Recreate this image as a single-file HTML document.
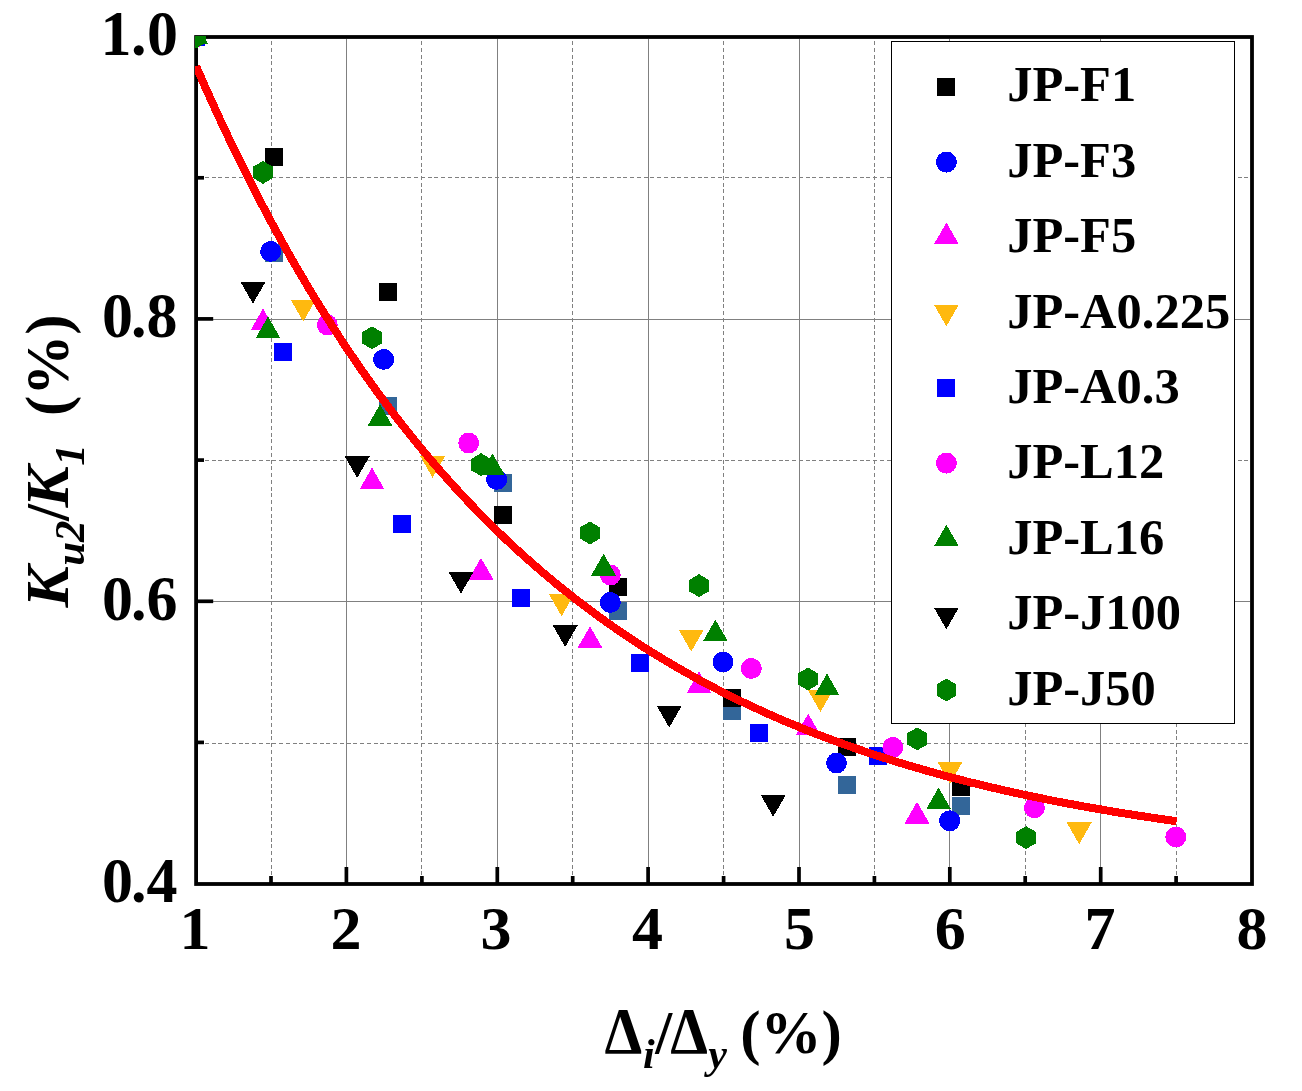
<!DOCTYPE html><html><head><meta charset="utf-8"><style>html,body{margin:0;padding:0;background:#fff}svg{display:block}</style></head><body><svg width="1302" height="1091" viewBox="0 0 1302 1091"><rect width="1302" height="1091" fill="#fff"/><defs><clipPath id="cp"><rect x="195" y="36" width="1058.5" height="849.5"/></clipPath><filter id="gs" x="-10%" y="-50%" width="120%" height="200%" color-interpolation-filters="sRGB"><feColorMatrix type="saturate" values="0"/></filter></defs><g stroke="#808080" stroke-width="1" shape-rendering="crispEdges"><line x1="346.5" y1="39" x2="346.5" y2="882"/><line x1="497.5" y1="39" x2="497.5" y2="882"/><line x1="648.5" y1="39" x2="648.5" y2="882"/><line x1="799.5" y1="39" x2="799.5" y2="882"/><line x1="949.5" y1="39" x2="949.5" y2="882"/><line x1="1100.5" y1="39" x2="1100.5" y2="882"/><line x1="198" y1="319.5" x2="1250" y2="319.5"/><line x1="198" y1="601.5" x2="1250" y2="601.5"/></g><g stroke="#808080" stroke-width="1" stroke-dasharray="4 2.75" shape-rendering="crispEdges"><line x1="271.5" y1="41" x2="271.5" y2="882"/><line x1="421.5" y1="41" x2="421.5" y2="882"/><line x1="572.5" y1="41" x2="572.5" y2="882"/><line x1="723.5" y1="41" x2="723.5" y2="882"/><line x1="874.5" y1="41" x2="874.5" y2="882"/><line x1="1025.5" y1="41" x2="1025.5" y2="882"/><line x1="1176.5" y1="41" x2="1176.5" y2="882"/><line x1="198" y1="177.5" x2="1250" y2="177.5"/><line x1="198" y1="460.5" x2="1250" y2="460.5"/><line x1="198" y1="743.5" x2="1250" y2="743.5"/></g><rect x="196.1" y="37.0" width="1055.9" height="847.0" fill="none" stroke="#000" stroke-width="3.8"/><g stroke="#000" stroke-width="3.7"><line x1="346.4" y1="867" x2="346.4" y2="884"/><line x1="497.3" y1="867" x2="497.3" y2="884"/><line x1="648.1" y1="867" x2="648.1" y2="884"/><line x1="799.0" y1="867" x2="799.0" y2="884"/><line x1="949.8" y1="867" x2="949.8" y2="884"/><line x1="1100.7" y1="867" x2="1100.7" y2="884"/><line x1="271.0" y1="876" x2="271.0" y2="884"/><line x1="421.9" y1="876" x2="421.9" y2="884"/><line x1="572.7" y1="876" x2="572.7" y2="884"/><line x1="723.6" y1="876" x2="723.6" y2="884"/><line x1="874.4" y1="876" x2="874.4" y2="884"/><line x1="1025.2" y1="876" x2="1025.2" y2="884"/><line x1="1176.1" y1="876" x2="1176.1" y2="884"/><line x1="196" y1="318.9" x2="213.2" y2="318.9"/><line x1="196" y1="601.3" x2="213.2" y2="601.3"/><line x1="196" y1="177.8" x2="204" y2="177.8"/><line x1="196" y1="460.1" x2="204" y2="460.1"/><line x1="196" y1="742.4" x2="204" y2="742.4"/></g><g clip-path="url(#cp)" shape-rendering="crispEdges"><rect x="187.0" y="28.0" width="18" height="18" fill="#336699"/><rect x="265.0" y="244.0" width="18" height="18" fill="#336699"/><rect x="379.0" y="397.4" width="18" height="18" fill="#336699"/><rect x="494.0" y="474.2" width="18" height="18" fill="#336699"/><rect x="608.8" y="601.8" width="18" height="18" fill="#336699"/><rect x="723.2" y="702.0" width="18" height="18" fill="#336699"/><rect x="837.6" y="776.0" width="18" height="18" fill="#336699"/><rect x="952.0" y="797.0" width="18" height="18" fill="#336699"/><rect x="187.0" y="28.0" width="18" height="18" fill="#000"/><rect x="265.0" y="148.0" width="18" height="18" fill="#000"/><rect x="379.0" y="283.0" width="18" height="18" fill="#000"/><rect x="494.0" y="506.0" width="18" height="18" fill="#000"/><rect x="608.8" y="578.2" width="18" height="18" fill="#000"/><rect x="723.2" y="689.4" width="18" height="18" fill="#000"/><rect x="837.7" y="738.1" width="18" height="18" fill="#000"/><rect x="952.0" y="778.0" width="18" height="18" fill="#000"/><circle cx="195.7" cy="37.0" r="10.45" fill="#0000ff"/><circle cx="270.7" cy="251.4" r="10.45" fill="#0000ff"/><circle cx="383.7" cy="359.4" r="10.45" fill="#0000ff"/><circle cx="496.7" cy="479.4" r="10.45" fill="#0000ff"/><circle cx="610.3" cy="602.4" r="10.45" fill="#0000ff"/><circle cx="723.1" cy="662.0" r="10.45" fill="#0000ff"/><circle cx="836.5" cy="763.0" r="10.45" fill="#0000ff"/><circle cx="949.7" cy="820.8" r="10.45" fill="#0000ff"/><polygon points="196.0,22.6 208.5,44.4 183.5,44.4" fill="#ff00ff"/><polygon points="263.0,308.6 275.5,330.4 250.5,330.4" fill="#ff00ff"/><polygon points="372.0,467.6 384.5,489.4 359.5,489.4" fill="#ff00ff"/><polygon points="481.0,557.9 493.5,579.6 468.5,579.6" fill="#ff00ff"/><polygon points="590.0,626.2 602.5,648.0 577.5,648.0" fill="#ff00ff"/><polygon points="699.0,671.6 711.5,693.4 686.5,693.4" fill="#ff00ff"/><polygon points="808.2,713.6 820.7,735.4 795.7,735.4" fill="#ff00ff"/><polygon points="917.0,801.8 929.5,823.6 904.5,823.6" fill="#ff00ff"/><polygon points="183.5,29.6 208.5,29.6 196.0,51.4" fill="#ffb90f"/><polygon points="290.7,299.8 315.7,299.8 303.2,321.6" fill="#ffb90f"/><polygon points="420.1,456.0 445.1,456.0 432.6,477.8" fill="#ffb90f"/><polygon points="549.1,594.4 574.1,594.4 561.6,616.2" fill="#ffb90f"/><polygon points="678.7,629.8 703.7,629.8 691.2,651.6" fill="#ffb90f"/><polygon points="807.9,690.2 832.9,690.2 820.4,712.0" fill="#ffb90f"/><polygon points="937.5,761.8 962.5,761.8 950.0,783.6" fill="#ffb90f"/><polygon points="1066.7,822.4 1091.7,822.4 1079.2,844.2" fill="#ffb90f"/><rect x="187.0" y="28.0" width="18" height="18" fill="#0000ff"/><rect x="274.0" y="343.0" width="18" height="18" fill="#0000ff"/><rect x="393.0" y="515.0" width="18" height="18" fill="#0000ff"/><rect x="512.0" y="589.0" width="18" height="18" fill="#0000ff"/><rect x="631.4" y="654.0" width="18" height="18" fill="#0000ff"/><rect x="750.0" y="724.0" width="18" height="18" fill="#0000ff"/><rect x="869.0" y="747.0" width="18" height="18" fill="#0000ff"/><circle cx="195.7" cy="37.0" r="10.45" fill="#ff00ff"/><circle cx="327.3" cy="325.0" r="10.45" fill="#ff00ff"/><circle cx="468.7" cy="443.0" r="10.45" fill="#ff00ff"/><circle cx="610.3" cy="575.0" r="10.45" fill="#ff00ff"/><circle cx="751.3" cy="668.4" r="10.45" fill="#ff00ff"/><circle cx="892.8" cy="747.4" r="10.45" fill="#ff00ff"/><circle cx="1034.4" cy="807.8" r="10.45" fill="#ff00ff"/><circle cx="1175.8" cy="837.0" r="10.45" fill="#ff00ff"/><polygon points="196.0,22.6 208.5,44.4 183.5,44.4" fill="#008000"/><polygon points="268.0,316.6 280.5,338.4 255.5,338.4" fill="#008000"/><polygon points="380.0,404.4 392.5,426.2 367.5,426.2" fill="#008000"/><polygon points="492.4,453.4 504.9,475.2 479.9,475.2" fill="#008000"/><polygon points="603.6,553.8 616.1,575.6 591.1,575.6" fill="#008000"/><polygon points="715.4,619.6 727.9,641.4 702.9,641.4" fill="#008000"/><polygon points="827.0,673.6 839.5,695.4 814.5,695.4" fill="#008000"/><polygon points="938.6,787.6 951.1,809.4 926.1,809.4" fill="#008000"/><polygon points="183.5,29.6 208.5,29.6 196.0,51.4" fill="#000"/><polygon points="240.5,281.8 265.5,281.8 253.0,303.6" fill="#000"/><polygon points="344.7,456.2 369.7,456.2 357.2,478.0" fill="#000"/><polygon points="448.5,571.8 473.5,571.8 461.0,593.6" fill="#000"/><polygon points="552.7,625.2 577.7,625.2 565.2,647.0" fill="#000"/><polygon points="656.7,705.8 681.7,705.8 669.2,727.6" fill="#000"/><polygon points="760.7,795.0 785.7,795.0 773.2,816.8" fill="#000"/><polygon points="196.0,25.6 186.1,31.3 186.1,42.7 196.0,48.4 205.9,42.7 205.9,31.3" fill="#008000"/><polygon points="263.0,161.0 253.1,166.7 253.1,178.1 263.0,183.8 272.9,178.1 272.9,166.7" fill="#008000"/><polygon points="372.0,326.4 362.1,332.1 362.1,343.5 372.0,349.2 381.9,343.5 381.9,332.1" fill="#008000"/><polygon points="481.0,453.2 471.1,458.9 471.1,470.3 481.0,476.0 490.9,470.3 490.9,458.9" fill="#008000"/><polygon points="590.0,521.6 580.1,527.3 580.1,538.7 590.0,544.4 599.9,538.7 599.9,527.3" fill="#008000"/><polygon points="699.0,574.2 689.1,579.9 689.1,591.3 699.0,597.0 708.9,591.3 708.9,579.9" fill="#008000"/><polygon points="808.0,667.6 798.1,673.3 798.1,684.7 808.0,690.4 817.9,684.7 817.9,673.3" fill="#008000"/><polygon points="917.2,727.5 907.3,733.2 907.3,744.6 917.2,750.3 927.1,744.6 927.1,733.2" fill="#008000"/><polygon points="1026.1,826.2 1016.2,831.9 1016.2,843.3 1026.1,849.0 1036.0,843.3 1036.0,831.9" fill="#008000"/><polyline points="196.1,66.2 203.6,83.4 211.2,100.3 218.7,116.7 226.3,132.9 233.8,148.6 241.4,164.1 248.9,179.2 256.4,194.0 264.0,208.4 271.5,222.6 279.1,236.4 286.6,250.0 294.1,263.3 301.7,276.2 309.2,288.9 316.8,301.4 324.3,313.5 331.9,325.4 339.4,337.1 346.9,348.5 354.5,359.6 362.0,370.6 369.6,381.2 377.1,391.7 384.7,401.9 392.2,411.9 399.7,421.7 407.3,431.3 414.8,440.7 422.4,449.9 429.9,458.9 437.4,467.7 445.0,476.3 452.5,484.7 460.1,492.9 467.6,501.0 475.2,508.9 482.7,516.6 490.2,524.1 497.8,531.5 505.3,538.8 512.9,545.9 520.4,552.8 528.0,559.6 535.5,566.2 543.0,572.7 550.6,579.0 558.1,585.3 565.7,591.3 573.2,597.3 580.7,603.1 588.3,608.8 595.8,614.4 603.4,619.9 610.9,625.2 618.5,630.4 626.0,635.6 633.5,640.6 641.1,645.5 648.6,650.3 656.2,654.9 663.7,659.5 671.3,664.0 678.8,668.4 686.3,672.7 693.9,676.9 701.4,681.1 709.0,685.1 716.5,689.0 724.1,692.9 731.6,696.7 739.1,700.4 746.7,704.0 754.2,707.5 761.8,711.0 769.3,714.4 776.8,717.7 784.4,721.0 791.9,724.1 799.5,727.2 807.0,730.3 814.6,733.3 822.1,736.2 829.6,739.0 837.2,741.8 844.7,744.5 852.3,747.2 859.8,749.8 867.4,752.4 874.9,754.9 882.4,757.3 890.0,759.7 897.5,762.1 905.1,764.4 912.6,766.6 920.1,768.8 927.7,771.0 935.2,773.1 942.8,775.2 950.3,777.2 957.9,779.1 965.4,781.1 972.9,783.0 980.5,784.8 988.0,786.6 995.6,788.4 1003.1,790.1 1010.7,791.8 1018.2,793.5 1025.7,795.1 1033.3,796.7 1040.8,798.2 1048.4,799.8 1055.9,801.3 1063.4,802.7 1071.0,804.1 1078.5,805.5 1086.1,806.9 1093.6,808.2 1101.2,809.5 1108.7,810.8 1116.2,812.1 1123.8,813.3 1131.3,814.5 1138.9,815.7 1146.4,816.8 1154.0,818.0 1161.5,819.1 1169.0,820.1 1176.6,821.2" fill="none" stroke="#ff0000" stroke-width="8"/></g><rect x="891.5" y="41.5" width="343" height="682" fill="#fff" stroke="#000" stroke-width="1" shape-rendering="crispEdges"/><g font-family="Liberation Serif, serif" font-weight="bold" fill="#000"><g shape-rendering="crispEdges"><rect x="937.0" y="78.3" width="18" height="18" fill="#000"/><circle cx="946.4" cy="162.1" r="10.45" fill="#0000ff"/><polygon points="946.4,222.5 958.9,244.3 933.9,244.3" fill="#ff00ff"/><polygon points="933.9,304.5 958.9,304.5 946.4,326.3" fill="#ffb90f"/><rect x="937.0" y="379.1" width="18" height="18" fill="#0000ff"/><circle cx="946.4" cy="463.1" r="10.45" fill="#ff00ff"/><polygon points="946.4,524.6 958.9,546.4 933.9,546.4" fill="#008000"/><polygon points="933.9,607.6 958.9,607.6 946.4,629.4" fill="#000"/><polygon points="946.4,678.6 936.5,684.3 936.5,695.7 946.4,701.4 956.3,695.7 956.3,684.3" fill="#008000"/></g><text x="1007.2" y="101.3" font-size="50.5">JP-F1</text><text x="1007.2" y="176.7" font-size="50.5">JP-F3</text><text x="1007.2" y="252.1" font-size="50.5">JP-F5</text><text x="1007.2" y="327.5" font-size="50.5">JP-A0.225</text><text x="1007.2" y="402.9" font-size="50.5">JP-A0.3</text><text x="1007.2" y="478.3" font-size="50.5">JP-L12</text><text x="1007.2" y="553.8" font-size="50.5">JP-L16</text><text x="1007.2" y="629.2" font-size="50.5">JP-J100</text><text x="1007.2" y="704.6" font-size="50.5">JP-J50</text></g><g font-family="Liberation Serif, serif" font-weight="bold" font-size="62" fill="#000"><text transform="translate(0,54.9) scale(1,1.025)" x="100.4 131.1 146.9" y="0">1.0</text><text transform="translate(0,337.2) scale(1,1.025)" x="102.0 131.1 146.6" y="0">0.8</text><text transform="translate(0,619.6) scale(1,1.025)" x="102.0 131.1 146.6" y="0">0.6</text><text transform="translate(0,901.9) scale(1,1.025)" x="102.0 131.1 146.6" y="0">0.4</text><text x="194.9" y="948.8" text-anchor="middle">1</text><text x="345.9" y="948.8" text-anchor="middle">2</text><text x="496.1" y="948.8" text-anchor="middle">3</text><text x="647.6" y="948.8" text-anchor="middle">4</text><text x="799.5" y="948.8" text-anchor="middle">5</text><text x="950.3" y="948.8" text-anchor="middle">6</text><text x="1099.9" y="948.8" text-anchor="middle">7</text><text x="1252.0" y="948.8" text-anchor="middle">8</text></g><g filter="url(#gs)" font-family="Liberation Serif, serif" font-weight="bold" fill="#000"><text transform="translate(604.58,1052.6) scale(0.912,1)" font-size="66">&#916;</text><text x="643" y="1067.8" font-size="42" font-style="italic">i</text><text x="655.2" y="1052.6" font-size="61">/</text><text transform="translate(670.18,1052.6) scale(0.912,1)" font-size="66">&#916;</text><text x="708.2" y="1067.8" font-size="42" font-style="italic">y</text><text x="740.3" y="1052.6" font-size="61">(%)</text></g><g filter="url(#gs)" transform="translate(68,608) rotate(-90)" font-family="Liberation Serif, serif" font-weight="bold" fill="#000"><text x="0.5" y="0" font-size="62" font-style="italic">K</text><text x="42.2" y="16.2" font-size="43" font-style="italic">u2</text><text x="86.9" y="0" font-size="61">/</text><text x="100.6" y="0" font-size="62" font-style="italic">K</text><text x="142.2" y="16.2" font-size="43" font-style="italic">1</text><text x="191.9" y="0" font-size="61">(%)</text></g></svg></body></html>
